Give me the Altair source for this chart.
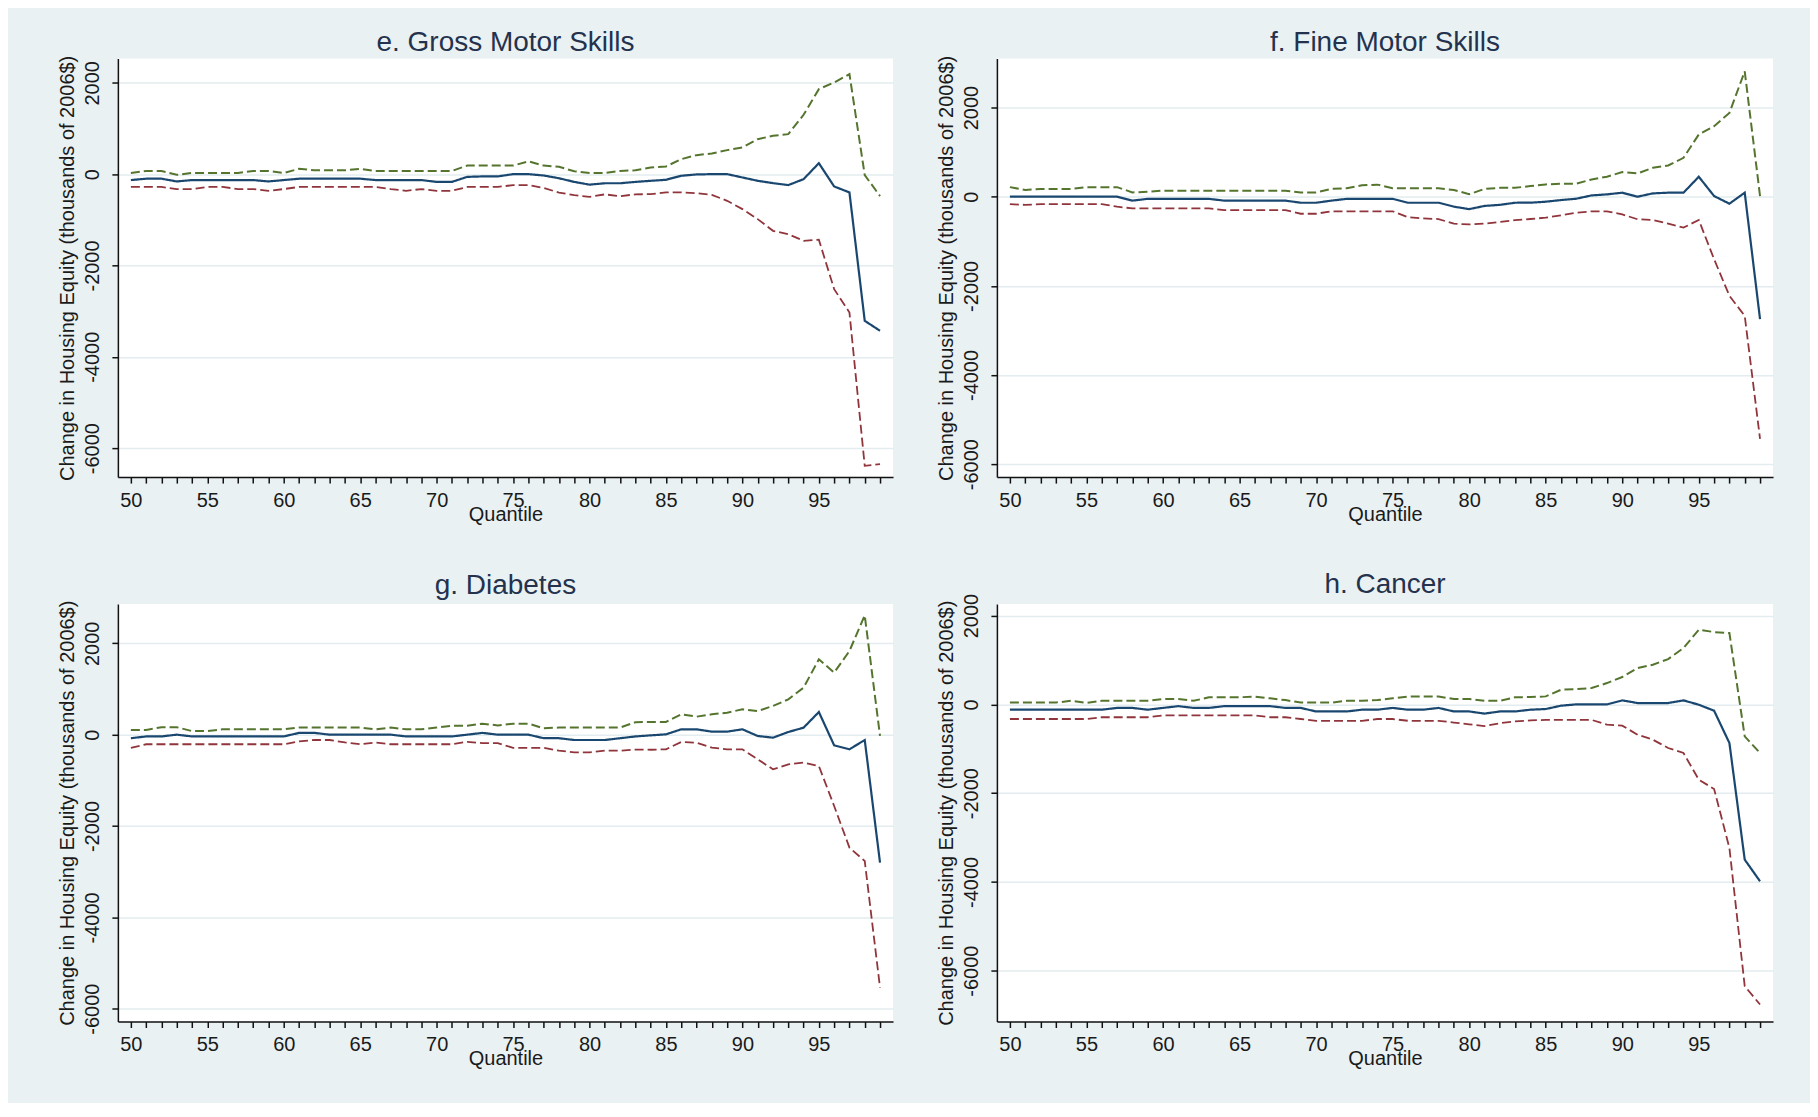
import altair as alt
import pandas as pd

quantiles = list(range(50, 100))
y_tick_values = [-6000, -4000, -2000, 0, 2000]
series_names = ["Estimate", "Upper", "Lower"]

titles = ["e. Gross Motor Skills", "f. Fine Motor Skills", "g. Diabetes", "h. Cancer"]
y_title = "Change in Housing Equity (thousands of 2006$)"
x_title = "Quantile"

# ---- e. Gross Motor Skills ----
est_e = [-130, -100, -100, -160, -130, -130, -130, -130, -130, -160,
         -130, -100, -100, -100, -100, -100, -130, -130, -130, -130,
         -170, -170, -60, -50, -50, 0, 0, -30, -90, -170,
         -230, -200, -200, -170, -146, -124, -36, -7, 0, 0,
         -73, -146, -197, -240, -110, 240, -270, -400, -3212, -3430]
hi_e = [25, 70, 70, -15, 25, 25, 25, 25, 70, 70,
        25, 117, 85, 85, 85, 117, 70, 70, 70, 70,
        70, 70, 187, 187, 187, 187, 280, 187, 163, 62,
        23, 23, 70, 85, 146, 168, 328, 416, 453, 526,
        584, 766, 839, 876, 1300, 1861, 2007, 2190, -20, -480]
lo_e = [-280, -280, -280, -327, -327, -280, -280, -327, -327, -365,
        -327, -280, -280, -280, -280, -280, -280, -327, -365, -327,
        -365, -365, -280, -280, -280, -241, -241, -303, -404, -459,
        -498, -443, -482, -443, -438, -401, -401, -416, -453, -584,
        -766, -985, -1241, -1314, -1460, -1438, -2518, -3029, -6387, -6350]

# ---- f. Fine Motor Skills ----
est_f = [0, 0, 0, 0, 0, 0, 0, 0, -88, -48,
         -48, -48, -48, -48, -88, -88, -88, -88, -88, -135,
         -135, -88, -48, -48, -48, -48, -135, -135, -135, -223,
         -279, -207, -183, -135, -134, -112, -75, -45, 30, 52,
         90, 0, 75, 90, 90, 448, 15, -157, 90, -2746]
hi_f = [215, 151, 175, 175, 175, 215, 215, 215, 96, 112,
        135, 135, 135, 135, 135, 135, 135, 135, 135, 96,
        96, 175, 191, 255, 271, 191, 191, 191, 191, 151,
        56, 175, 199, 199, 240, 276, 291, 291, 388, 448,
        552, 522, 649, 701, 873, 1396, 1582, 1881, 2813, 15]
lo_f = [-167, -183, -167, -167, -167, -167, -167, -223, -263, -263,
        -263, -263, -263, -263, -303, -303, -303, -303, -303, -382,
        -382, -327, -327, -327, -327, -327, -462, -486, -502, -605,
        -621, -605, -566, -526, -500, -470, -418, -358, -328, -328,
        -396, -507, -522, -604, -694, -522, -1403, -2224, -2672, -5433]

# ---- g. Diabetes ----
est_g = [-78, -39, -39, 0, -39, -39, -39, -39, -39, -39,
         -39, 39, 39, 0, 0, 0, 0, 0, -39, -39,
         -39, -39, 0, 39, 0, 0, 0, -78, -78, -117,
         -117, -117, -78, -39, -15, 7, 117, 117, 66, 66,
         117, -29, -66, 58, 153, 496, -234, -321, -117, -2803]
hi_g = [101, 101, 164, 164, 78, 78, 117, 117, 117, 117,
        117, 156, 156, 156, 156, 156, 117, 156, 117, 117,
        156, 195, 195, 241, 202, 241, 241, 140, 156, 156,
        156, 156, 156, 273, 277, 277, 445, 394, 445, 482,
        555, 518, 628, 774, 1029, 1650, 1358, 1832, 2613, -29]
lo_g = [-288, -210, -210, -210, -210, -210, -210, -210, -210, -210,
        -210, -148, -117, -117, -171, -210, -171, -210, -210, -210,
        -210, -210, -156, -187, -187, -288, -288, -288, -350, -389,
        -389, -350, -350, -327, -330, -321, -161, -175, -285, -321,
        -321, -540, -759, -650, -613, -686, -1562, -2474, -2766, -5540]

# ---- h. Cancer ----
est_h = [-120, -120, -120, -120, -120, -120, -120, -80, -80, -120,
         -80, -40, -80, -80, -40, -40, -40, -40, -80, -80,
         -160, -160, -160, -120, -120, -80, -120, -120, -80, -160,
         -160, -208, -160, -160, -120, -105, -30, 0, 0, 0,
         90, 30, 30, 30, 90, -8, -143, -871, -3499, -3986]
hi_h = [40, 40, 40, 40, 80, 32, 80, 80, 80, 80,
        120, 120, 80, 160, 160, 160, 176, 136, 96, 40,
        40, 40, 80, 80, 96, 136, 176, 176, 176, 120,
        120, 80, 80, 160, 165, 180, 330, 345, 368, 480,
        616, 818, 893, 1021, 1269, 1682, 1629, 1607, -721, -1096]
lo_h = [-330, -330, -330, -330, -330, -330, -290, -290, -290, -290,
        -250, -250, -250, -250, -250, -250, -250, -290, -290, -330,
        -370, -370, -370, -370, -330, -330, -370, -370, -370, -410,
        -450, -490, -425, -385, -360, -350, -350, -350, -350, -458,
        -480, -683, -796, -983, -1096, -1697, -1907, -3236, -6351, -6764]

y_domains = [[-6634, 2531], [-6291, 3100], [-6280, 2862], [-7146, 2263]]
x_domain = [49.15, 99.85]

BG = "#e9f1f3"
GRID = "#e3ecef"
TITLE_COLOR = "#24324d"
TEXT = "#1a1a1a"
FONT = "Liberation Sans"


def make_df(est, hi, lo):
    rows = []
    for name, vals in zip(series_names, [est, hi, lo]):
        for q, v in zip(quantiles, vals):
            rows.append({"q": q, "v": v, "s": name})
    return pd.DataFrame(rows)


def panel(title, est, hi, lo, ydom, w, h, toff):
    df = make_df(est, hi, lo)
    return alt.Chart(df).mark_line(clip=True).encode(
        x=alt.X("q:Q", title=x_title,
                scale=alt.Scale(domain=x_domain, nice=False, zero=False),
                axis=alt.Axis(values=quantiles,
                              labelExpr="datum.value % 5 === 0 ? datum.label : ''",
                              titleY=43)),
        y=alt.Y("v:Q", title=y_title,
                scale=alt.Scale(domain=ydom, nice=False, zero=False),
                axis=alt.Axis(values=y_tick_values, titleY=h / 2,
                              labelExpr="toString(datum.value)")),
        color=alt.Color("s:N", legend=None,
                        scale=alt.Scale(domain=series_names,
                                        range=["#1a476f", "#55752f", "#90353b"])),
        strokeDash=alt.StrokeDash("s:N", legend=None,
                                  scale=alt.Scale(domain=series_names,
                                                  range=[[1, 0], [9, 4], [9, 4]])),
        size=alt.Size("s:N", legend=None,
                      scale=alt.Scale(domain=series_names, range=[2.2, 1.8, 1.8])),
        order=alt.Order("q:Q"),
    ).properties(
        width=w, height=h,
        title=alt.Title(title, offset=toff, fontSize=28,
                        font=FONT, color=TITLE_COLOR, fontWeight="normal"),
    )


pe = panel(titles[0], est_e, hi_e, lo_e, y_domains[0], 776, 419, -2)
pf = panel(titles[1], est_f, hi_f, lo_f, y_domains[1], 777, 419, -2)
pg = panel(titles[2], est_g, hi_g, lo_g, y_domains[2], 776, 418, 0)
ph = panel(titles[3], est_h, hi_h, lo_h, y_domains[3], 777, 418, -6)

top = alt.hconcat(pe, pf, spacing=43)
bottom = alt.hconcat(pg, ph, spacing=43)

chart = alt.vconcat(top, bottom, spacing=47).properties(
    background=BG,
    padding={"left": 49, "top": 20, "right": 37, "bottom": 34},
).configure_view(
    fill="white", stroke=None
).configure_axis(
    domainColor="#111111", domainWidth=1.5,
    tickColor="#111111", tickWidth=1.5, tickSize=6,
    labelFont=FONT, labelFontSize=20, labelColor=TEXT,
    titleFont=FONT, titleFontWeight="normal", titleColor=TEXT,
    labelOverlap=False, labelFlush=False,
).configure_axisX(
    grid=False, labelPadding=7.5, labelBaseline="top", labelAngle=0,
    titleFontSize=20, titleBaseline="alphabetic",
).configure_axisY(
    grid=True, gridColor=GRID, gridWidth=1.5,
    labelAngle=270, labelAlign="center", labelBaseline="alphabetic",
    labelPadding=13.5,
    titleFontSize=20, titleAngle=270, titleX=-44, titleAlign="center",
    titleBaseline="alphabetic",
)

chart.save("out.html", embed_options={"renderer": "svg", "actions": False})
